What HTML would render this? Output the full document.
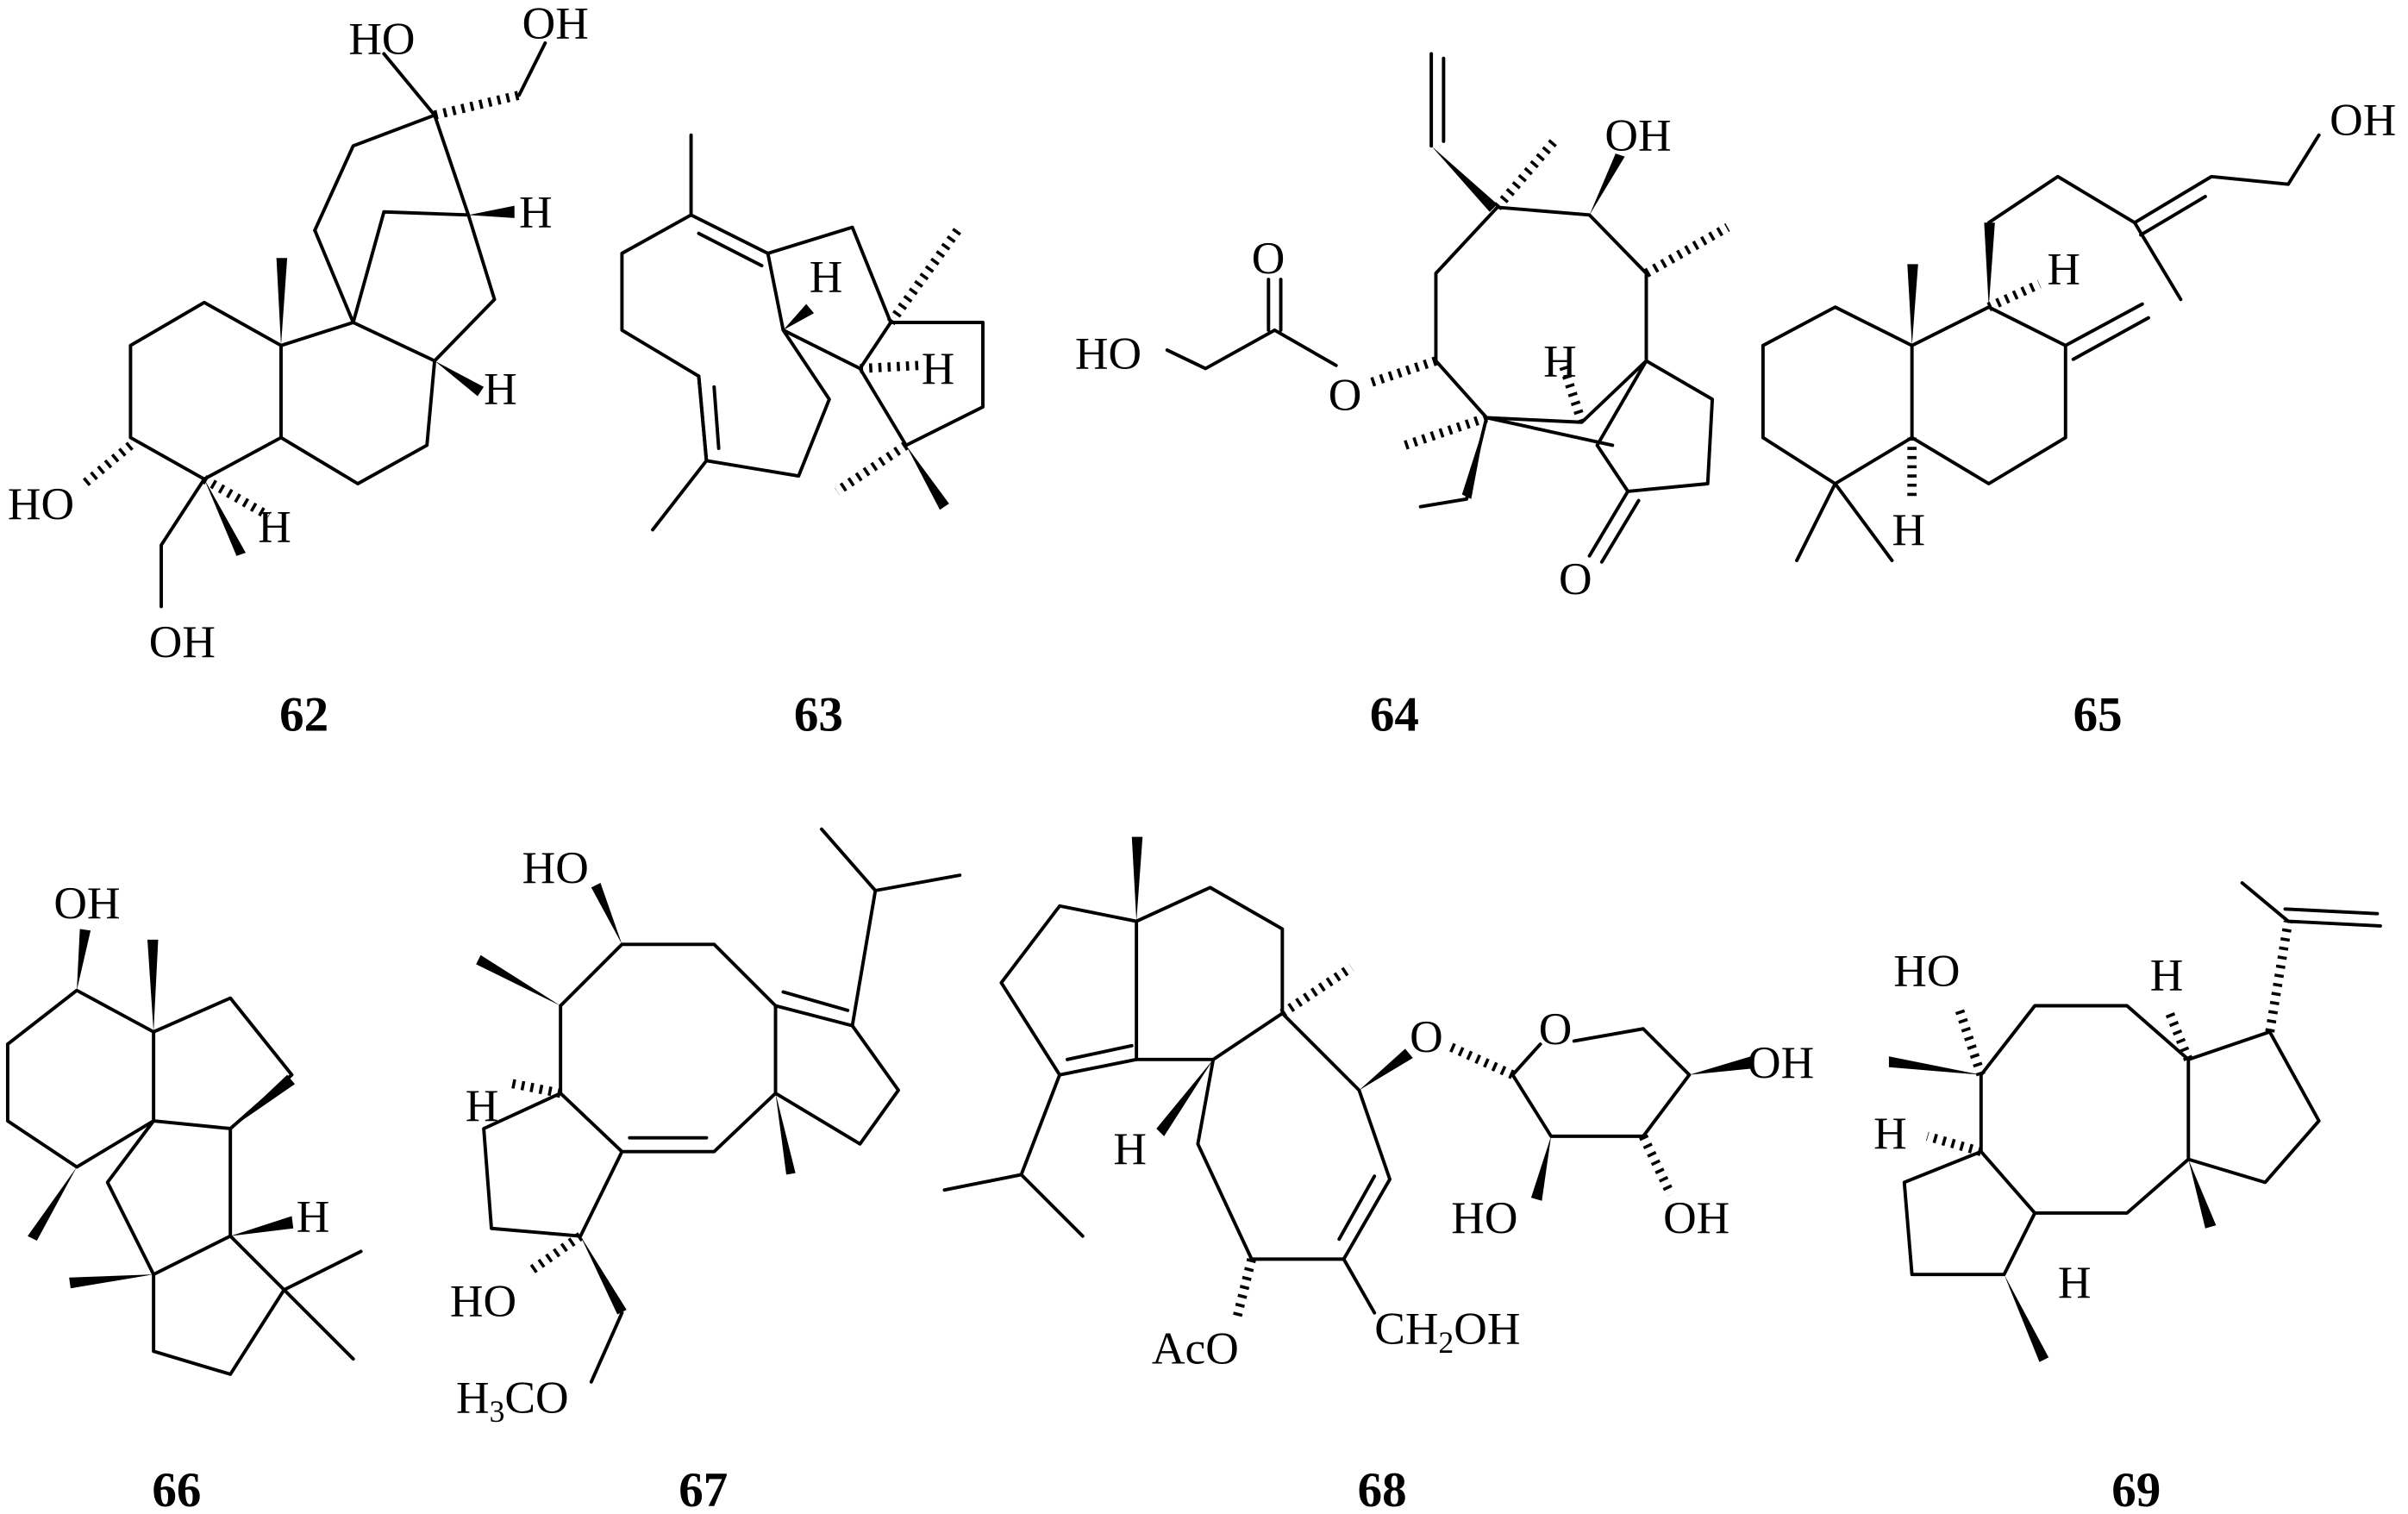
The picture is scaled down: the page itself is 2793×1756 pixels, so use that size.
<!DOCTYPE html>
<html><head><meta charset="utf-8"><style>
html,body{margin:0;padding:0;background:#fff;}
svg{display:block;}
text{font-family:"Liberation Serif",serif;font-size:30px;fill:#000;}
.n{font-weight:bold;font-size:32px;}
</style></head><body>
<svg width="2793" height="1756" viewBox="0 0 1568 986" preserveAspectRatio="none">
<defs>
<style>
.b{fill:none;stroke:#000;stroke-width:2.2;stroke-linejoin:round;stroke-linecap:round}
.h{fill:none;stroke:#000;stroke-width:6;stroke-dasharray:2,4}
.w{fill:#000;stroke:none}
</style>
</defs>
<!-- 62 -->
<polyline class="b" points="85,225 133,197 183,225 183,285 133,312 85,285 85,225"/>
<polyline class="b" points="183,225 230,210 283,235 278,290 233,315 183,285"/>
<polyline class="b" points="230,210 250,138 305,140 322,195 283,235"/>
<polyline class="b" points="230,210 205,150"/>
<polyline class="b" points="205,150 230,95 283,75 305,140"/>
<polyline class="b" points="283,75 250,35"/>
<line class="h" x1="283" y1="75" x2="338" y2="62"/>
<polyline class="b" points="338,62 355,28"/>
<polygon class="w" points="183,225 180,168 187,168"/>
<polygon class="w" points="305,140 335,134 335,142"/>
<polygon class="w" points="283,235 315,252 311,258"/>
<line class="h" x1="85" y1="290" x2="55" y2="315"/>
<polygon class="w" points="133,312 160,360 154,362"/>
<polyline class="b" points="133,312 105,355 105,395"/>
<line class="h" x1="133" y1="312" x2="175" y2="336"/>
<text x="227" y="35">HO</text><text x="340" y="25">OH</text>
<text x="338" y="148">H</text><text x="315" y="263">H</text>
<text x="5" y="338">HO</text><text x="168" y="353">H</text><text x="97" y="428">OH</text>
<text class="n" x="182" y="476">62</text>
<!-- 63 -->
<polyline class="b" points="450,88 450,140 405,165 405,215 455,245 460,300 425,345"/>
<line class="b" x1="455" y1="245" x2="460" y2="300"/><line class="b" x1="465" y1="252" x2="468" y2="292"/>
<polyline class="b" points="460,300 520,310 540,260 510,215 500,165"/>
<line class="b" x1="450" y1="140" x2="500" y2="165"/><line class="b" x1="455" y1="152" x2="496" y2="173"/>
<polyline class="b" points="500,165 555,148 580,210 640,210 640,265 590,290 560,240 580,210"/>
<line class="b" x1="510" y1="215" x2="560" y2="240"/>
<polygon class="w" points="510,215 525,198 530,204"/>
<line class="h" x1="580" y1="210" x2="625" y2="148"/>
<line class="h" x1="560" y1="240" x2="598" y2="238"/>
<polygon class="w" points="590,290 618,328 612,332"/>
<line class="h" x1="590" y1="290" x2="545" y2="320"/>
<text x="527" y="190">H</text><text x="600" y="250">H</text>
<text class="n" x="517" y="476">63</text>
<!-- 64 -->
<line class="b" x1="932" y1="35" x2="932" y2="95"/><line class="b" x1="940" y1="38" x2="940" y2="92"/>
<polygon class="w" points="932,95 975,133 970,138"/>
<polyline class="b" points="975,135 1035,140 1072,178 1072,235 1030,275 968,272 935,235 935,178 975,135"/>
<line class="h" x1="975" y1="135" x2="1012" y2="92"/>
<polygon class="w" points="1035,140 1052,100 1058,102"/>
<line class="h" x1="1072" y1="178" x2="1125" y2="148"/>
<polyline class="b" points="1072,235 1115,260 1112,315 1060,320 1040,290 1072,235"/>
<line class="b" x1="1060" y1="320" x2="1035" y2="362"/><line class="b" x1="1067" y1="326" x2="1043" y2="366"/>
<line class="h" x1="935" y1="235" x2="890" y2="250"/>
<polyline class="b" points="870,238 830,215 785,240 760,228"/>
<line class="b" x1="826" y1="215" x2="826" y2="182"/><line class="b" x1="834" y1="215" x2="834" y2="182"/>
<polyline class="b" points="968,272 955,325 925,330"/>
<polygon class="w" points="968,272 958,325 952,322"/>
<line class="h" x1="968" y1="272" x2="915" y2="290"/>
<line class="b" x1="968" y1="272" x2="1050" y2="290"/>
<line class="h" x1="1030" y1="275" x2="1018" y2="238"/>
<text x="1045" y="98">OH</text><text x="815" y="178">O</text>
<text x="700" y="240">HO</text><text x="865" y="267">O</text>
<text x="1005" y="245">H</text><text x="1015" y="387">O</text>
<text class="n" x="892" y="476">64</text>
<!-- 65 -->
<polyline class="b" points="1148,225 1195,200 1245,225 1245,285 1195,315 1148,285 1148,225"/>
<polyline class="b" points="1245,225 1295,200 1345,225 1345,285 1295,315 1245,285"/>
<polygon class="w" points="1245,225 1242,172 1249,172"/>
<polyline class="b" points="1170,365 1195,315 1232,365"/>
<line class="h" x1="1245" y1="285" x2="1245" y2="325"/>
<line class="b" x1="1345" y1="225" x2="1395" y2="198"/><line class="b" x1="1350" y1="234" x2="1399" y2="207"/>
<polygon class="w" points="1295,200 1292,145 1299,145"/>
<polyline class="b" points="1295,145 1340,115 1390,145 1440,115 1490,120 1510,88"/>
<line class="b" x1="1394" y1="153" x2="1436" y2="128"/>
<line class="b" x1="1390" y1="145" x2="1420" y2="195"/>
<line class="h" x1="1295" y1="200" x2="1328" y2="185"/>
<text x="1333" y="185">H</text><text x="1517" y="88">OH</text><text x="1232" y="355">H</text>
<text class="n" x="1350" y="476">65</text>
<!-- 66 -->
<polyline class="b" points="5,680 50,645 100,672 100,730 50,760 5,730 5,680"/>
<polygon class="w" points="50,645 52,605 59,606"/>
<polygon class="w" points="100,672 96,612 103,612"/>
<polygon class="w" points="50,760 18,805 24,808"/>
<polyline class="b" points="100,672 150,650 190,700 150,735 100,730"/>
<polygon class="w" points="150,735 187,700 192,706"/>
<polyline class="b" points="150,735 150,805 185,840 150,895 100,880 100,830 70,770 100,730"/>
<line class="b" x1="100" y1="830" x2="150" y2="805"/>
<polygon class="w" points="100,830 45,832 46,839"/>
<polygon class="w" points="150,805 190,792 191,800"/>
<polyline class="b" points="235,815 185,840 230,885"/>
<text x="35" y="598">OH</text><text x="193" y="802">H</text>
<text class="n" x="99" y="981">66</text>
<!-- 67 -->
<polyline class="b" points="365,655 405,615 465,615 505,655 505,712 465,750 405,750 365,712 365,655"/>
<line class="b" x1="410" y1="741" x2="460" y2="741"/>
<polygon class="w" points="405,615 385,578 391,575"/>
<polygon class="w" points="365,655 310,628 313,622"/>
<line class="b" x1="505" y1="655" x2="555" y2="668"/><line class="b" x1="510" y1="646" x2="552" y2="658"/>
<polyline class="b" points="555,668 585,710 560,745 505,712"/>
<polyline class="b" points="555,668 570,580 535,540"/><line class="b" x1="570" y1="580" x2="625" y2="570"/>
<polygon class="w" points="505,712 512,765 518,764"/>
<polyline class="b" points="365,712 315,735 320,800 378,805 405,750"/>
<line class="h" x1="365" y1="712" x2="330" y2="705"/>
<line class="h" x1="378" y1="805" x2="345" y2="828"/>
<polygon class="w" points="378,805 408,853 402,856"/>
<line class="b" x1="405" y1="855" x2="385" y2="900"/>
<text x="340" y="575">HO</text><text x="303" y="730">H</text>
<text x="293" y="857">HO</text><text x="297" y="920">H<tspan font-size="20" dy="6">3</tspan><tspan dy="-6">CO</tspan></text>
<text class="n" x="442" y="981">67</text>
<!-- 68 -->
<polyline class="b" points="740,600 690,590 652,640 690,700 740,690 740,600"/>
<line class="b" x1="695" y1="690" x2="737" y2="681"/>
<polygon class="w" points="740,600 737,545 744,545"/>
<polyline class="b" points="690,700 665,765 615,775"/><line class="b" x1="665" y1="765" x2="705" y2="805"/>
<polyline class="b" points="740,600 788,578 835,605 835,660 790,690 740,690"/>
<polyline class="b" points="790,690 780,745 815,820 875,820 905,768 885,710 835,660"/>
<line class="b" x1="872" y1="807" x2="895" y2="766"/>
<polygon class="w" points="790,690 753,735 758,740"/>
<line class="h" x1="835" y1="660" x2="880" y2="630"/>
<polygon class="w" points="885,710 915,683 920,689"/>
<line class="h" x1="945" y1="682" x2="985" y2="700"/>
<polyline class="b" points="985,700 1003,680"/><polyline class="b" points="1025,678 1070,670 1100,700 1070,740 1010,740 985,700"/>
<polygon class="w" points="1100,700 1140,688 1140,696"/>
<line class="h" x1="1070" y1="740" x2="1088" y2="778"/>
<polygon class="w" points="1010,740 997,780 1004,782"/>
<line class="b" x1="875" y1="820" x2="895" y2="855"/>
<line class="h" x1="815" y1="820" x2="805" y2="860"/>
<text x="918" y="685">O</text><text x="1002" y="680">O</text>
<text x="1138" y="702">OH</text><text x="1083" y="803">OH</text><text x="945" y="803">HO</text>
<text x="725" y="758">H</text><text x="750" y="888">AcO</text>
<text x="895" y="875">CH<tspan font-size="20" dy="6">2</tspan><tspan dy="-6">OH</tspan></text>
<text class="n" x="884" y="981">68</text>
<!-- 69 -->
<polyline class="b" points="1290,700 1325,655 1385,655 1425,690 1425,755 1385,790 1325,790 1290,750 1290,700"/>
<polygon class="w" points="1290,700 1230,688 1230,695"/>
<line class="h" x1="1290" y1="700" x2="1275" y2="655"/>
<polyline class="b" points="1290,750 1240,770 1245,830 1305,830 1325,790"/>
<line class="h" x1="1290" y1="750" x2="1255" y2="740"/>
<polygon class="w" points="1305,830 1328,887 1334,884"/>
<polyline class="b" points="1425,690 1478,672 1510,730 1475,770 1425,755"/>
<polygon class="w" points="1425,755 1436,800 1443,798"/>
<line class="h" x1="1478" y1="672" x2="1490" y2="600"/>
<line class="b" x1="1490" y1="600" x2="1460" y2="575"/>
<line class="b" x1="1490" y1="600" x2="1550" y2="603"/><line class="b" x1="1488" y1="592" x2="1548" y2="595"/>
<line class="h" x1="1425" y1="690" x2="1412" y2="658"/>
<text x="1233" y="642">HO</text><text x="1400" y="645">H</text>
<text x="1220" y="748">H</text><text x="1340" y="845">H</text>
<text class="n" x="1375" y="981">69</text>
</svg>
</body></html>
